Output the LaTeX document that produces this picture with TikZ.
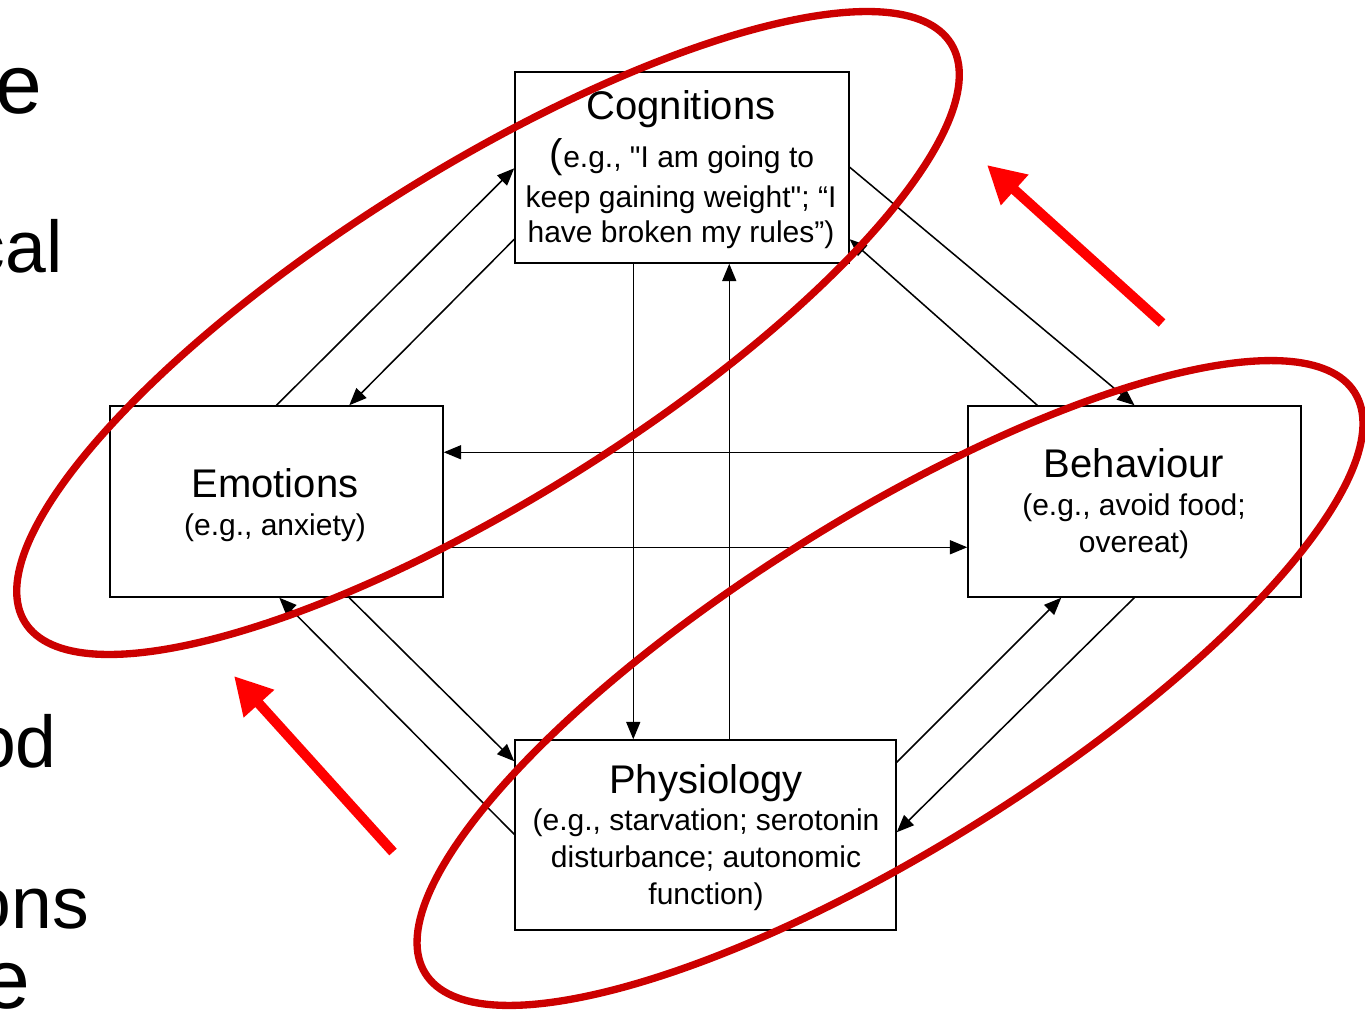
\documentclass[tikz,border=0pt]{standalone}
\usepackage{fontspec}
\setmainfont{Liberation Sans}[Ligatures=TeXOff]
\usetikzlibrary{arrows.meta,calc}
\definecolor{ringred}{HTML}{CC0000}
\definecolor{cuered}{HTML}{FF0000}
\begin{document}
\begin{tikzpicture}[x=0.75pt,y=-0.75pt,
  box/.style={draw, line width=1.1pt, fill=white, inner sep=0pt},
  title/.style={font=\fontsize{30}{36}\selectfont, anchor=base, inner sep=0pt},
  body/.style={font=\fontsize{22.5}{27}\selectfont, anchor=base, inner sep=0pt},
  slide/.style={font=\fontsize{63}{70}\selectfont, anchor=base east, inner sep=0pt},
  subslide/.style={font=\fontsize{55}{62}\selectfont, anchor=base east, inner sep=0pt},
  link/.style={line width=1.15pt, -{Triangle[length=13pt,width=10.5pt]}},
  ring/.style={draw=ringred, line width=5.5pt},
  cue/.style={draw=cuered, line width=7.5pt, -{Triangle[length=28pt,width=29pt]}},
]
\useasboundingbox (0,0) rectangle (1365,1010);
\clip (0,0) rectangle (1365,1010);

% fragments of the slide text running off the left edge
\node[slide]    (s1) at (42,113) {e};
\node[subslide] (s2) at (63,272) {cal};
\node[subslide] (s3) at (57,767) {od};
\node[subslide] (s4) at (89,928) {ons};
\node[slide]    (s5) at (30,1008) {e};

% the four boxes
\node[box, minimum width=334*0.75pt, minimum height=191*0.75pt] (cog) at (682,167.5) {};
\node[box, minimum width=333*0.75pt, minimum height=191*0.75pt] (emo) at (276.5,501.5) {};
\node[box, minimum width=333*0.75pt, minimum height=191*0.75pt] (beh) at (1134.5,501.5) {};
\node[box, minimum width=381*0.75pt, minimum height=190*0.75pt] (phy) at (705.5,835) {};

% box texts
\node[title] (cogT) at (681,119) {Cognitions};
\node[body]  (cog1) at (682,167) {{\fontsize{30}{36}\selectfont(}e.g., "I am going to};
\node[body]  (cog2) at (681,207) {keep gaining weight"; “I};
\node[body]  (cog3) at (681,242) {have broken my rules”)};

\node[title] (emoT) at (275,497) {Emotions};
\node[body]  (emo1) at (275,535) {(e.g., anxiety)};

\node[title] (behT) at (1134,477) {Behaviour};
\node[body]  (beh1) at (1134,515) {(e.g., avoid food;};
\node[body]  (beh2) at (1134,552) {overeat)};

\node[title] (phyT) at (706,793) {Physiology};
\node[body]  (phy1) at (706,830) {(e.g., starvation; serotonin};
\node[body]  (phy2) at (706,867) {disturbance; autonomic};
\node[body]  (phy3) at (706,904) {function)};

% connectors between the boxes
\draw[link] (emo.north) -- ($(cog.north west)+(0,97)$);
\draw[link] ($(cog.north west)+(0,168)$) -- ($(emo.north west)+(240,0)$);
\draw[link] ($(cog.north east)+(0,96)$) -- (beh.north);
\draw[link] ($(beh.north west)+(70,0)$) -- ($(cog.north east)+(0,168)$);
\draw[link] ($(beh.north west)+(0,47)$) -- ($(emo.north east)+(0,47)$);
\draw[link] ($(emo.north east)+(0,142)$) -- ($(beh.north west)+(0,142)$);
\draw[link] ($(cog.south west)+(119,0)$) -- ($(phy.north west)+(119,0)$);
\draw[link] ($(phy.north west)+(215,0)$) -- ($(cog.south west)+(215,0)$);
\draw[link] ($(phy.north west)+(0,95)$) -- ($(emo.south west)+(170,0)$);
\draw[link] ($(emo.south west)+(240,0)$) -- ($(phy.north west)+(0,22)$);
\draw[link] ($(phy.north east)+(0,23)$) -- ($(beh.south west)+(94,0)$);
\draw[link] ($(beh.south west)+(167,0)$) -- ($(phy.north east)+(0,93)$);

% rings grouping the pairs
\coordinate (r1) at (488,333);
\coordinate (r2) at (890,683);
\draw[ring, rotate around={32:(r1)}] (r1) ellipse [x radius=546, y radius=165];
\draw[ring, rotate around={32:(r2)}] (r2) ellipse [x radius=548, y radius=165];

% direction cues
\coordinate (c1a) at (1162,323);
\coordinate (c1b) at (987,165);
\coordinate (c2a) at (393,852);
\coordinate (c2b) at (234,676);
\draw[cue] (c1a) -- (c1b);
\draw[cue] (c2a) -- (c2b);
\end{tikzpicture}
\end{document}
